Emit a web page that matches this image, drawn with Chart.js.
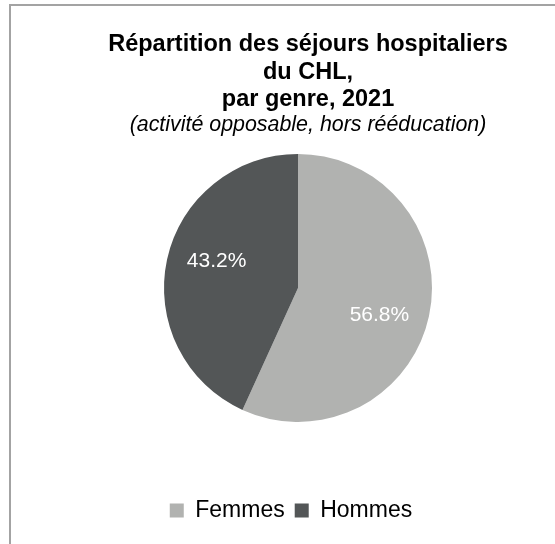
<!DOCTYPE html>
<html lang="fr">
<head>
<meta charset="utf-8">
<title>Répartition des séjours hospitaliers du CHL</title>
<script src="https://cdn.jsdelivr.net/npm/chart.js@4.4.1/dist/chart.umd.min.js"></script>
<style>
    html, body {
        margin: 0;
        padding: 0;
        background: #fff;
        overflow: hidden;
        width: 555px;
        height: 544px;
    }
    #frame {
        position: absolute;
        left: 9px;
        top: 4px;
        width: 580px;
        height: 600px;
        border-left: 2px solid #a3a3a3;
        border-top: 2px solid #a3a3a3;
    }
    #frame canvas {
        display: block;
    }
</style>
</head>
<body>
<div id="frame">
    <canvas id="myChart" width="574" height="526"></canvas>
</div>
<script>
// Chart data
const categories = ['Femmes', 'Hommes'];
const shares = [56.8, 43.2];

// Chart colours
const sliceColors = ['#b1b2b0', '#535657'];

const titleLines = ['Répartition des séjours hospitaliers', 'du CHL,', 'par genre, 2021'];
const subtitleText = '(activité opposable, hors rééducation)';

const fontFamily = "'Liberation Sans', Arial, Helvetica, sans-serif";

// draws the percentage inside each slice
const sliceLabels = {
    id: 'sliceLabels',
    afterDatasetsDraw(chart) {
        const ctx = chart.ctx;
        const meta = chart.getDatasetMeta(0);
        ctx.save();
        ctx.font = `21px ${fontFamily}`;
        ctx.fillStyle = '#ffffff';
        ctx.textAlign = 'center';
        ctx.textBaseline = 'middle';
        meta.data.forEach((arc, i) => {
            const p = arc.getProps(['x', 'y', 'startAngle', 'endAngle', 'outerRadius'], true);
            const mid = (p.startAngle + p.endAngle) / 2 + 0.105;
            const r = p.outerRadius * 0.64;
            const x = p.x + Math.cos(mid) * r;
            const y = p.y + Math.sin(mid) * r;
            ctx.fillText(shares[i].toFixed(1) + '%', x, y);
        });
        ctx.restore();
    }
};

// titles sit a bit right of the pie, legend a bit left
const nudgeBoxes = {
    id: 'nudgeBoxes',
    afterLayout(chart) {
        const TitleBox = chart.titleBlock && chart.titleBlock.constructor;
        chart.boxes.forEach(b => {
            if (TitleBox && b instanceof TitleBox) {
                b.left += 10;
                b.right += 10;
            }
        });
        if (chart.legend) {
            chart.legend.left -= 7;
            chart.legend.right -= 7;
        }
    }
};

const ctx = document.getElementById('myChart').getContext('2d');

const chart = new Chart(ctx, {
    type: 'pie',
    data: {
        labels: categories,
        datasets: [{
            data: shares,
            backgroundColor: sliceColors,
            borderWidth: 0,
            radius: 134
        }]
    },
    options: {
        responsive: false,
        animation: false,
        layout: { padding: 0 },
        plugins: {
            title: {
                display: true,
                text: titleLines,
                color: '#000',
                font: { family: fontFamily, size: 23.5, weight: 'bold', lineHeight: 1.17 },
                padding: { top: 25, bottom: 0 }
            },
            subtitle: {
                display: true,
                text: subtitleText,
                color: '#000',
                font: { family: fontFamily, size: 21.4, style: 'italic', lineHeight: 1.07 },
                padding: { top: 0, bottom: 0 }
            },
            legend: {
                position: 'bottom',
                title: {
                    display: true,
                    text: ' ',
                    font: { size: 1, lineHeight: 1 },
                    padding: { top: 48.5, bottom: 0 }
                },
                labels: {
                    boxWidth: 14,
                    boxHeight: 14,
                    padding: 10,
                    color: '#000',
                    font: { family: fontFamily, size: 23 }
                }
            },
            tooltip: { enabled: false }
        }
    },
    plugins: [sliceLabels, nudgeBoxes]
});
</script>
</body>
</html>
